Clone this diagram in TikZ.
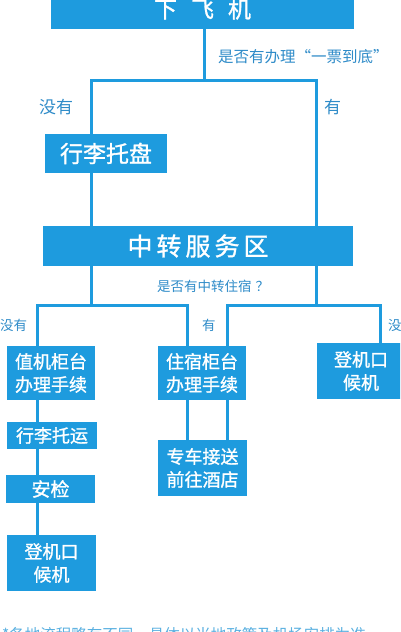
\documentclass[tikz,border=0pt]{standalone}
\usepackage{fontspec}
\setmainfont{Noto Sans CJK SC}
\newfontfamily\boxfont[FakeBold=1.2]{Noto Sans CJK SC}
\definecolor{boxblue}{RGB}{30,155,222}
\definecolor{lblblue}{RGB}{46,139,200}
\definecolor{notecol}{RGB}{90,176,224}
\begin{document}
\begin{tikzpicture}[x=1pt,y=-1pt,
  box/.style={fill=boxblue,text=white,inner sep=0pt,align=center,font=\boxfont\fontsize{18}{23}\selectfont},
  conn/.style={draw=boxblue,line width=3pt,line join=miter},
  lbl/.style={text=lblblue,inner sep=0pt,anchor=west}]
\useasboundingbox (0,0) rectangle (400,632);
\clip (0,0) rectangle (400,632);
% junction coordinates
\coordinate (a1) at (91,80);
\coordinate (a2) at (316,80);
\coordinate (b1) at (91,305);
\coordinate (b2) at (316,305);
\coordinate (cL1) at (37,305);
\coordinate (cL2) at (187,305);
\coordinate (cR1) at (227,305);
\coordinate (cR2) at (380,305);
% box shapes (drawn first so the connectors can be placed by name)
\path
 node[minimum width=303,minimum height=40,inner sep=0pt] (top) at (202.5,9) {}
 node[minimum width=122,minimum height=39,inner sep=0pt] (tray) at (106,153.5) {}
 node[minimum width=310,minimum height=40,inner sep=0pt] (zz) at (198,246) {}
 node[minimum width=88,minimum height=54,inner sep=0pt] (zhiji) at (51,373) {}
 node[minimum width=88,minimum height=54,inner sep=0pt] (zhusu) at (202,373) {}
 node[minimum width=88,minimum height=56,inner sep=0pt] (dengR) at (361,371) {}
 node[minimum width=90,minimum height=27,inner sep=0pt] (tuoyun) at (52,435.5) {}
 node[minimum width=89,minimum height=28,inner sep=0pt] (anjian) at (50.5,489) {}
 node[minimum width=89,minimum height=56,inner sep=0pt] (dengL) at (51.5,563) {}
 node[minimum width=89,minimum height=56,inner sep=0pt] (zhuanche) at (202.5,468) {};
% connectors
\draw[conn] (top.south -| 204,0) -- (204,80);
\draw[conn] (tray.north -| a1) -- (a1) -- (a2) -- (zz.north -| a2);
\draw[conn] (tray.south -| a1) -- (zz.north -| a1);
\draw[conn] (zz.south -| b1) -- (b1);
\draw[conn] (zz.south -| b2) -- (b2);
\draw[conn] (zhiji.north -| cL1) -- (cL1) -- (cL2) -- (zhusu.north -| cL2);
\draw[conn] (zhusu.north -| cR1) -- (cR1) -- (cR2) -- (dengR.north -| cR2);
\draw[conn] (zhiji.south -| cL1) -- (tuoyun.north -| cL1);
\draw[conn] (tuoyun.south -| cL1) -- (anjian.north -| cL1);
\draw[conn] (anjian.south -| cL1) -- (dengL.north -| cL1);
\draw[conn] (zhusu.south -| cL2) -- (zhuanche.north -| cL2);
\draw[conn] (zhusu.south -| cR1) -- (zhuanche.north -| cR1);
% filled boxes with text
\node[box,minimum width=303,minimum height=40,font=\boxfont\fontsize{23}{26}\selectfont] at (top) {下\hspace{14pt}飞\hspace{14pt}机};
\node[box,minimum width=122,minimum height=39,font=\boxfont\fontsize{23}{26}\selectfont] at (tray) {行李托盘};
\node[box,minimum width=310,minimum height=40,font=\boxfont\fontsize{25}{28}\selectfont] at (zz) {中\hspace{4pt}转\hspace{4pt}服\hspace{4pt}务\hspace{4pt}区};
\node[box,minimum width=88,minimum height=54] at (zhiji) {值机柜台\\办理手续};
\node[box,minimum width=88,minimum height=54] at (zhusu) {住宿柜台\\办理手续};
\node[box,minimum width=88,minimum height=56] at (dengR) {登机口\\候机};
\node[box,minimum width=90,minimum height=27] at (tuoyun) {行李托运};
\node[box,minimum width=89,minimum height=28,font=\boxfont\fontsize{19}{23}\selectfont] at (anjian) {安检};
\node[box,minimum width=89,minimum height=56] at (dengL) {登机口\\候机};
\node[box,minimum width=89,minimum height=56] at (zhuanche) {专车接送\\前往酒店};
% labels
\node[lbl,font=\fontsize{15.5}{18}\selectfont] (q1) at (218,57) {是否有办理“一票到底”};
\node[lbl,font=\fontsize{17}{20}\selectfont] (l1) at (39,107) {没有};
\node[lbl,font=\fontsize{17}{20}\selectfont] (l2) at (324,107) {有};
\node[lbl,font=\fontsize{13.5}{16}\selectfont] (q2) at (157,286) {是否有中转住宿\hspace{4pt}？};
\node[lbl,font=\fontsize{13.5}{16}\selectfont] (l3) at (0,325) {没有};
\node[lbl,font=\fontsize{13.5}{16}\selectfont] (l4) at (202,325) {有};
\node[lbl,font=\fontsize{13.5}{16}\selectfont] (l5) at (388,325) {没有};
\node[text=notecol,inner sep=0pt,anchor=base west,font=\fontsize{15.5}{18}\selectfont] (note) at (2,640) {*各地流程略有不同，具体以当地政策及机场安排为准};
\end{tikzpicture}
\end{document}
